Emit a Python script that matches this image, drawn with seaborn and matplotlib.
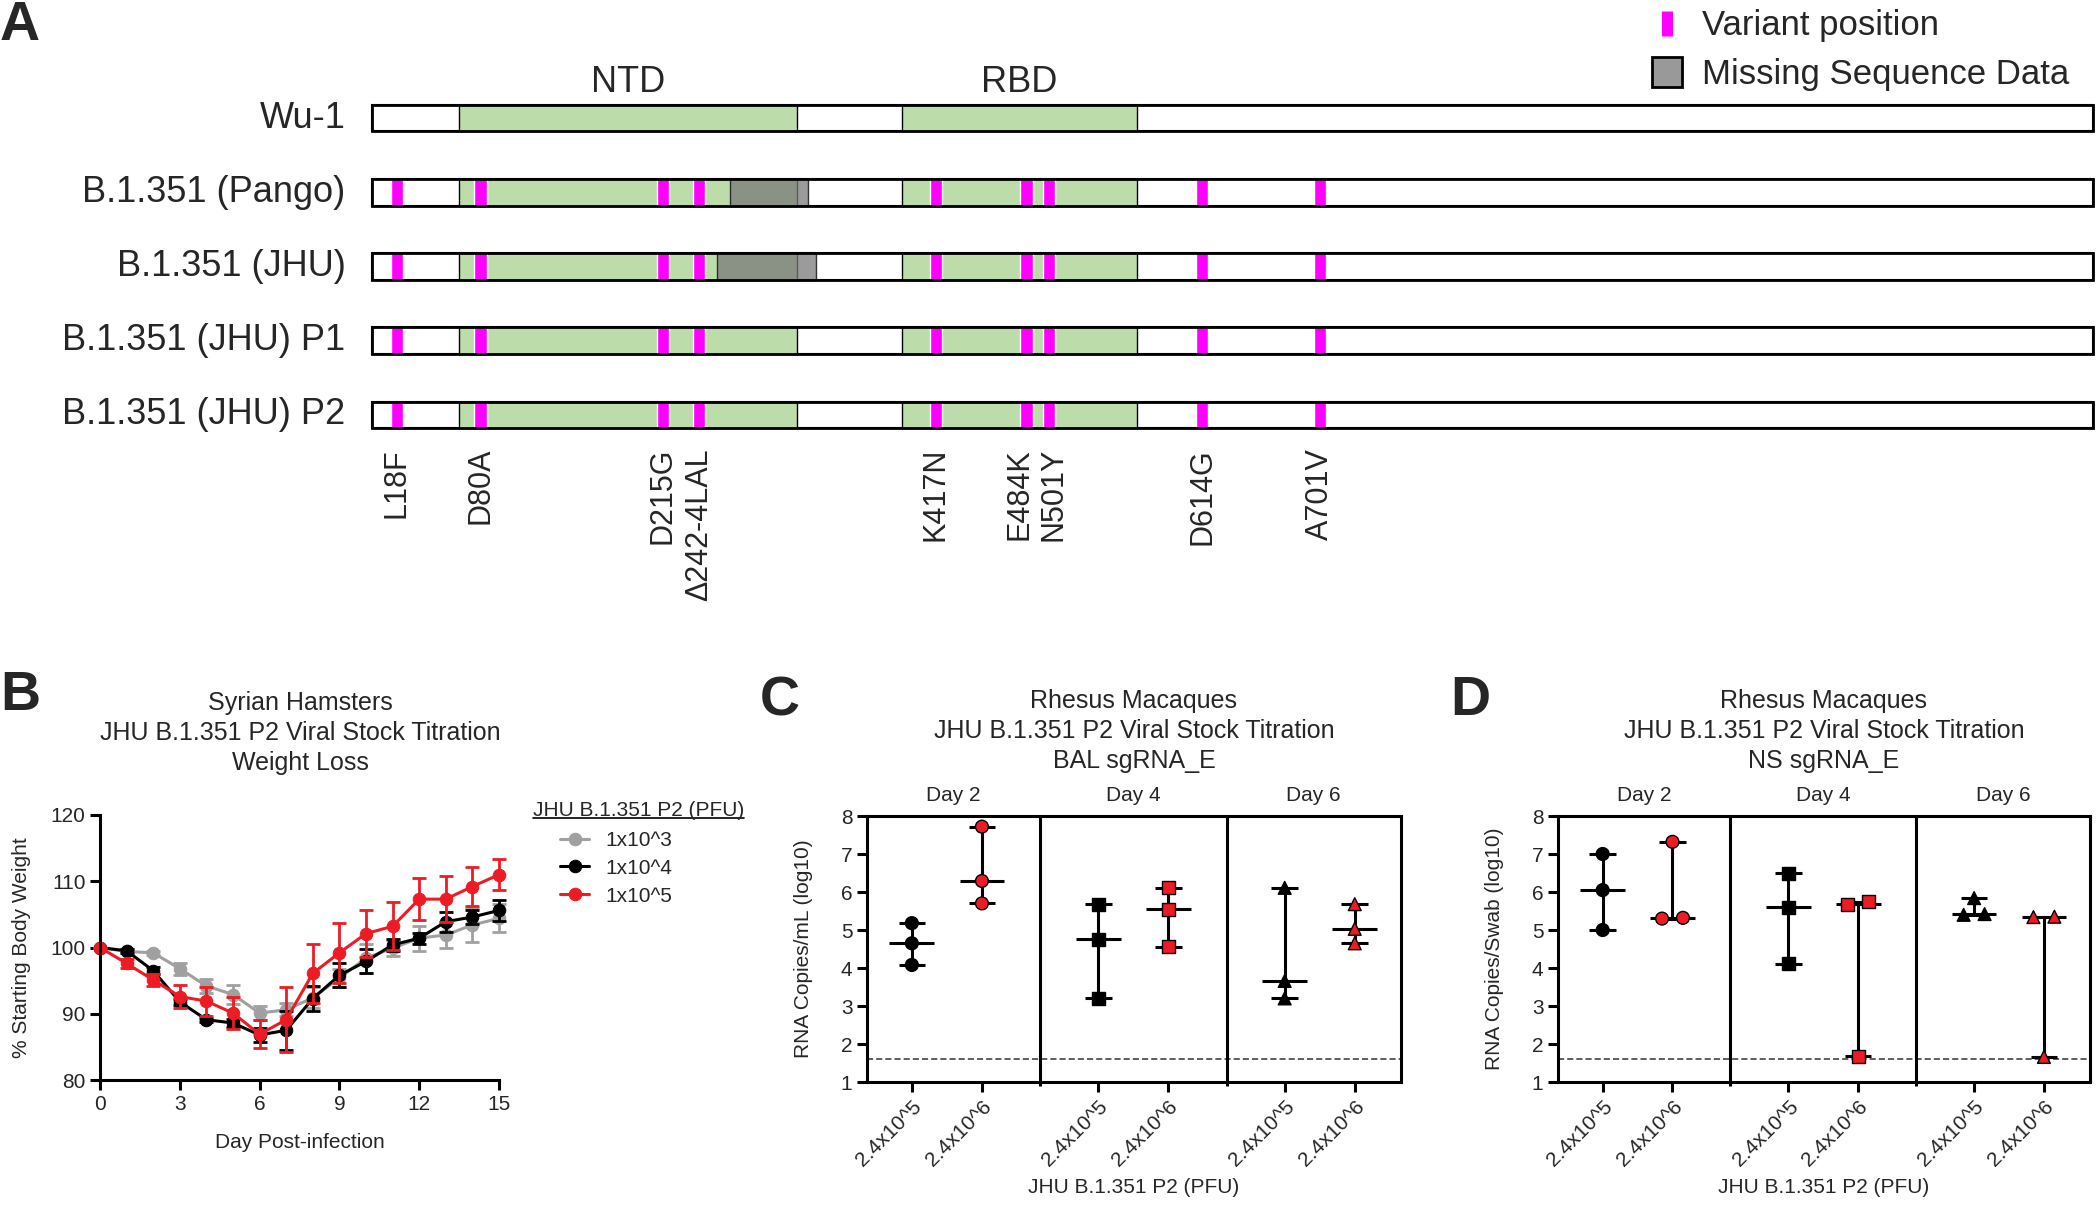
import numpy as np
import pandas as pd
import matplotlib
matplotlib.use("Agg")
import matplotlib.pyplot as plt
from matplotlib.lines import Line2D
import seaborn as sns

# ---------------- A: spike maps ----------------
strains = ["Wu-1", "B.1.351 (Pango)", "B.1.351 (JHU)", "B.1.351 (JHU) P1", "B.1.351 (JHU) P2"]
spike_length = 1273
domain_names = ["NTD", "RBD"]
domain_start = [64, 392]
domain_end = [314, 566]
mutation_names = ["L18F", "D80A", "D215G", "Δ242-4LAL", "K417N", "E484K", "N501Y", "D614G", "A701V"]
mutation_pos = [18, 80, 215, 242, 417, 484, 501, 614, 701]
# small nudges so neighbouring labels do not collide
label_nudge = [0, 0, 0, 0, 0, -5, 3, 0, 0]
has_mutations = [False, True, True, True, True]
missing_start = [None, 265, 255, None, None]
missing_end = [None, 322, 328, None, None]

# ---------------- B: hamster weights ----------------
days = list(range(16))
dose_labels = ["1x10^3", "1x10^4", "1x10^5"]
weight_1e3 = [100, 99.4, 99.2, 96.8, 94.2, 92.9, 90.1, 90.6, 92.4, 95.4, 98.4, 99.9, 101.4, 101.9, 103.4, 104.4]
sem_1e3 = [0, 0.3, 0.3, 0.9, 1.0, 1.4, 1.0, 1.0, 1.6, 1.4, 2.2, 1.2, 1.9, 1.9, 2.5, 2.1]
weight_1e4 = [100, 99.5, 96.5, 91.8, 89.1, 88.6, 86.8, 87.5, 92.3, 95.8, 97.9, 100.4, 101.4, 103.9, 104.6, 105.6]
sem_1e4 = [0, 0.3, 0.5, 0.5, 0.3, 0.6, 1.1, 2.9, 1.9, 1.8, 1.8, 0.9, 0.8, 1.5, 1.1, 1.6]
weight_1e5 = [100, 97.6, 95.1, 92.6, 91.9, 90.1, 86.9, 89.1, 96.1, 99.2, 102.1, 103.2, 107.3, 107.3, 109.2, 111.0]
sem_1e5 = [0, 0.7, 0.9, 1.8, 2.2, 2.4, 2.1, 4.9, 4.5, 4.5, 3.6, 3.6, 3.2, 3.5, 3.0, 2.3]

# ---------------- C / D: rhesus sgRNA ----------------
study_days = ["Day 2", "Day 4", "Day 6"]
doses = ["2.4x10^5", "2.4x10^6"]
bal_low = [[5.18, 4.65, 4.08], [5.68, 4.76, 3.20], [6.11, 3.66, 3.20]]
bal_high = [[7.72, 6.29, 5.70], [6.11, 5.54, 4.56], [5.68, 5.03, 4.65]]
ns_low = [[7.00, 6.05, 5.00], [6.49, 5.60, 4.11], [5.84, 5.40, 5.42]]
ns_high = [[7.32, 5.30, 5.32], [5.75, 5.68, 1.68], [5.35, 5.34, 1.66]]
lod = 1.6

GREEN = "#bcdca9"
MAGENTA = "#ff00ff"
RED = "#ed1c24"
GREY = "#a0a0a0"

sns.set_style("ticks")
plt.rcParams["font.family"] = ["Liberation Sans", "DejaVu Sans"]
plt.rcParams["axes.linewidth"] = 2.2
plt.rcParams["axes.edgecolor"] = "black"

W, H = 2100, 1210
fig = plt.figure(figsize=(W / 100, H / 100), dpi=100)


def px_axes(left, top, right, bottom):
    return fig.add_axes([left / W, 1 - bottom / H, (right - left) / W, (bottom - top) / H])


# ---- panel A ----
ax_a = px_axes(367, 0, 2098, 620)
row_px, first_row = 74.25, 118
ax_a.set_xlim(-4, spike_length + 4)
ax_a.set_ylim((620 - first_row) / row_px, -first_row / row_px)
ax_a.axis("off")
bar_h = 0.36
for i, name in enumerate(strains):
    ax_a.barh(i, spike_length, left=0, height=bar_h, color="white", edgecolor="black", linewidth=1.5, zorder=1)
    ax_a.barh([i, i], np.subtract(domain_end, domain_start), left=domain_start, height=bar_h,
              color=GREEN, edgecolor="black", linewidth=1, zorder=2)
    if missing_start[i] is not None:
        ax_a.barh(i, missing_end[i] - missing_start[i], left=missing_start[i], height=bar_h,
                  color="#7a7a7a", alpha=0.75, edgecolor="black", linewidth=1, zorder=3)
    if has_mutations[i]:
        ax_a.barh([i] * len(mutation_pos), 9, left=np.array(mutation_pos) - 4.5, height=bar_h,
                  color=MAGENTA, zorder=4)
    ax_a.barh(i, spike_length, left=0, height=bar_h, fill=False, edgecolor="black", linewidth=2, zorder=5)
    ax_a.text(-20, i, name, ha="right", va="center", fontsize=26)

for name, s, e in zip(domain_names, domain_start, domain_end):
    ax_a.text((s + e) / 2, (82 - first_row) / row_px, name, ha="center", va="center", fontsize=26)

for name, p, n in zip(mutation_names, mutation_pos, label_nudge):
    ax_a.text(p + n, (448 - first_row) / row_px, name, rotation=90, ha="center", va="top", fontsize=22)

legend_handles = [
    Line2D([], [], ls="none", marker="|", ms=18, mew=8, color=MAGENTA),
    Line2D([], [], ls="none", marker="s", ms=21, mfc="#999999", mec="black", mew=2),
]
fig.legend(legend_handles, ["Variant position", "Missing Sequence Data"], loc="upper left",
           bbox_to_anchor=(1650 / W, 1 - 9 / H), frameon=False, fontsize=25, handlelength=1.0,
           handletextpad=0.5, labelspacing=0.47, borderpad=0, borderaxespad=0)

# ---- panel B ----
ax_b = px_axes(100, 815, 499, 1080)
for mean, sem, color, label in zip([weight_1e3, weight_1e4, weight_1e5], [sem_1e3, sem_1e4, sem_1e5],
                                   [GREY, "black", RED], dose_labels):
    sns.lineplot(x=days, y=mean, ax=ax_b, color=color, linewidth=2.2, marker="o", markersize=9,
                 markeredgecolor=color, label=label, clip_on=False)
    eb = ax_b.errorbar(days, mean, yerr=sem, fmt="none", ecolor=color, elinewidth=2, capsize=5, capthick=2)
    for art in eb.get_children():
        art.set_clip_on(False)

ax_b.set_xlim(0, 15)
ax_b.set_ylim(80, 120)
ax_b.set_xticks(range(0, 16, 3))
ax_b.set_yticks(range(80, 121, 10))
ax_b.tick_params(length=7, width=2.2, labelsize=15, color="black")
sns.despine(ax=ax_b)
ax_b.set_xlabel("Day Post-infection", fontsize=15, labelpad=14)
ax_b.set_ylabel("% Starting Body Weight", fontsize=15, labelpad=14)
ax_b.legend(loc="upper left", bbox_to_anchor=(560 / W, 1 - 831 / H), bbox_transform=fig.transFigure,
            frameon=False, fontsize=15, handlelength=1.4, handletextpad=0.8, labelspacing=0.42,
            borderpad=0, borderaxespad=0)
leg_title = fig.text(533 / W, 1 - 810 / H, "JHU B.1.351 P2 (PFU)", fontsize=15, va="center")
bb = leg_title.get_window_extent(fig.canvas.get_renderer())
fig.add_artist(Line2D([bb.x0 / W, bb.x1 / W], [1 - 818 / H] * 2, color="black", lw=1.2))
fig.text(300 / W, 1 - 733 / H, "Syrian Hamsters\nJHU B.1.351 P2 Viral Stock Titration\nWeight Loss",
         ha="center", va="center", fontsize=18, linespacing=1.3)


# ---- panels C and D ----
group_gap = 2.66


def spread(vals, tol=0.25, step=0.3):
    vals = np.asarray(vals)
    off = np.zeros(len(vals))
    groups = []
    for i in np.argsort(vals):
        if groups and vals[i] - vals[groups[-1][-1]] < tol:
            groups[-1].append(i)
        else:
            groups.append([i])
    for g in groups:
        for k, i in enumerate(g):
            off[i] = (k - (len(g) - 1) / 2) * step
    return off


def rhesus_panel(ax, low, high, ylabel, title):
    rows = []
    for d, day in enumerate(study_days):
        for k, vals in enumerate([low[d], high[d]]):
            base = d * group_gap + k
            for v, o in zip(vals, spread(vals)):
                rows.append({"day": day, "dose": doses[k], "value": v, "x": base + o, "base": base})
    df = pd.DataFrame(rows)

    # median with range
    for base, grp in df.groupby("base"):
        lo, med, hi = grp["value"].min(), grp["value"].median(), grp["value"].max()
        ax.vlines(base, lo, hi, color="black", lw=2.2, zorder=2)
        ax.hlines([lo, hi], base - 0.19, base + 0.19, color="black", lw=2.2, zorder=2)
        ax.hlines(med, base - 0.32, base + 0.32, color="black", lw=2.2, zorder=2)

    sns.scatterplot(data=df, x="x", y="value", hue="dose", style="day", ax=ax,
                    palette={doses[0]: "black", doses[1]: RED},
                    markers={"Day 2": "o", "Day 4": "s", "Day 6": "^"},
                    s=85, edgecolor="black", linewidth=1, legend=False, zorder=3)

    ax.axhline(lod, color="#333333", lw=1.1, ls=(0, (4, 2)), zorder=1)
    dividers = [1 + (group_gap - 1) / 2, group_gap + 1 + (group_gap - 1) / 2]
    for x in dividers:
        ax.axvline(x, color="black", lw=2.2, zorder=1)
    xmin, xmax = -0.64, 2 * group_gap + 1.66
    ax.set_xlim(xmin, xmax)
    ax.set_ylim(1, 8)
    ax.set_yticks(range(1, 9))
    ticks = sorted(df["base"].unique())
    ax.set_xticks(ticks)
    ax.set_xticklabels(doses * 3, rotation=45, ha="right", rotation_mode="anchor")
    ax.set_xticks(dividers, minor=True)
    ax.tick_params(which="major", length=7, width=2.2, labelsize=15, color="black")
    ax.tick_params(which="minor", length=3, width=2.2, color="black")
    edges = [xmin] + dividers + [xmax]
    for d, day in enumerate(study_days):
        ax.text((edges[d] + edges[d + 1]) / 2, 8.55, day, ha="center", va="center", fontsize=15)
    ax.set_xlabel("JHU B.1.351 P2 (PFU)", fontsize=15, labelpad=6)
    ax.set_ylabel(ylabel, fontsize=15, labelpad=20)
    pos = ax.get_position()
    fig.text((pos.x0 + pos.x1) / 2, 1 - 731 / H, title, ha="center", va="center", fontsize=18, linespacing=1.3)


ax_c = px_axes(867, 816, 1401, 1082)
rhesus_panel(ax_c, bal_low, bal_high, "RNA Copies/mL (log10)",
             "Rhesus Macaques\nJHU B.1.351 P2 Viral Stock Titration\nBAL sgRNA_E")
ax_d = px_axes(1558, 816, 2090, 1082)
rhesus_panel(ax_d, ns_low, ns_high, "RNA Copies/Swab (log10)",
             "Rhesus Macaques\nJHU B.1.351 P2 Viral Stock Titration\nNS sgRNA_E")

# panel letters
for letter, x, top in [("A", 0, 0), ("B", 0, 670), ("C", 760, 675), ("D", 1450, 675)]:
    fig.text(x / W, 1 - top / H, letter, fontsize=40, fontweight="bold", va="top", ha="left")

fig.savefig("out.png", dpi=100, facecolor="white")
